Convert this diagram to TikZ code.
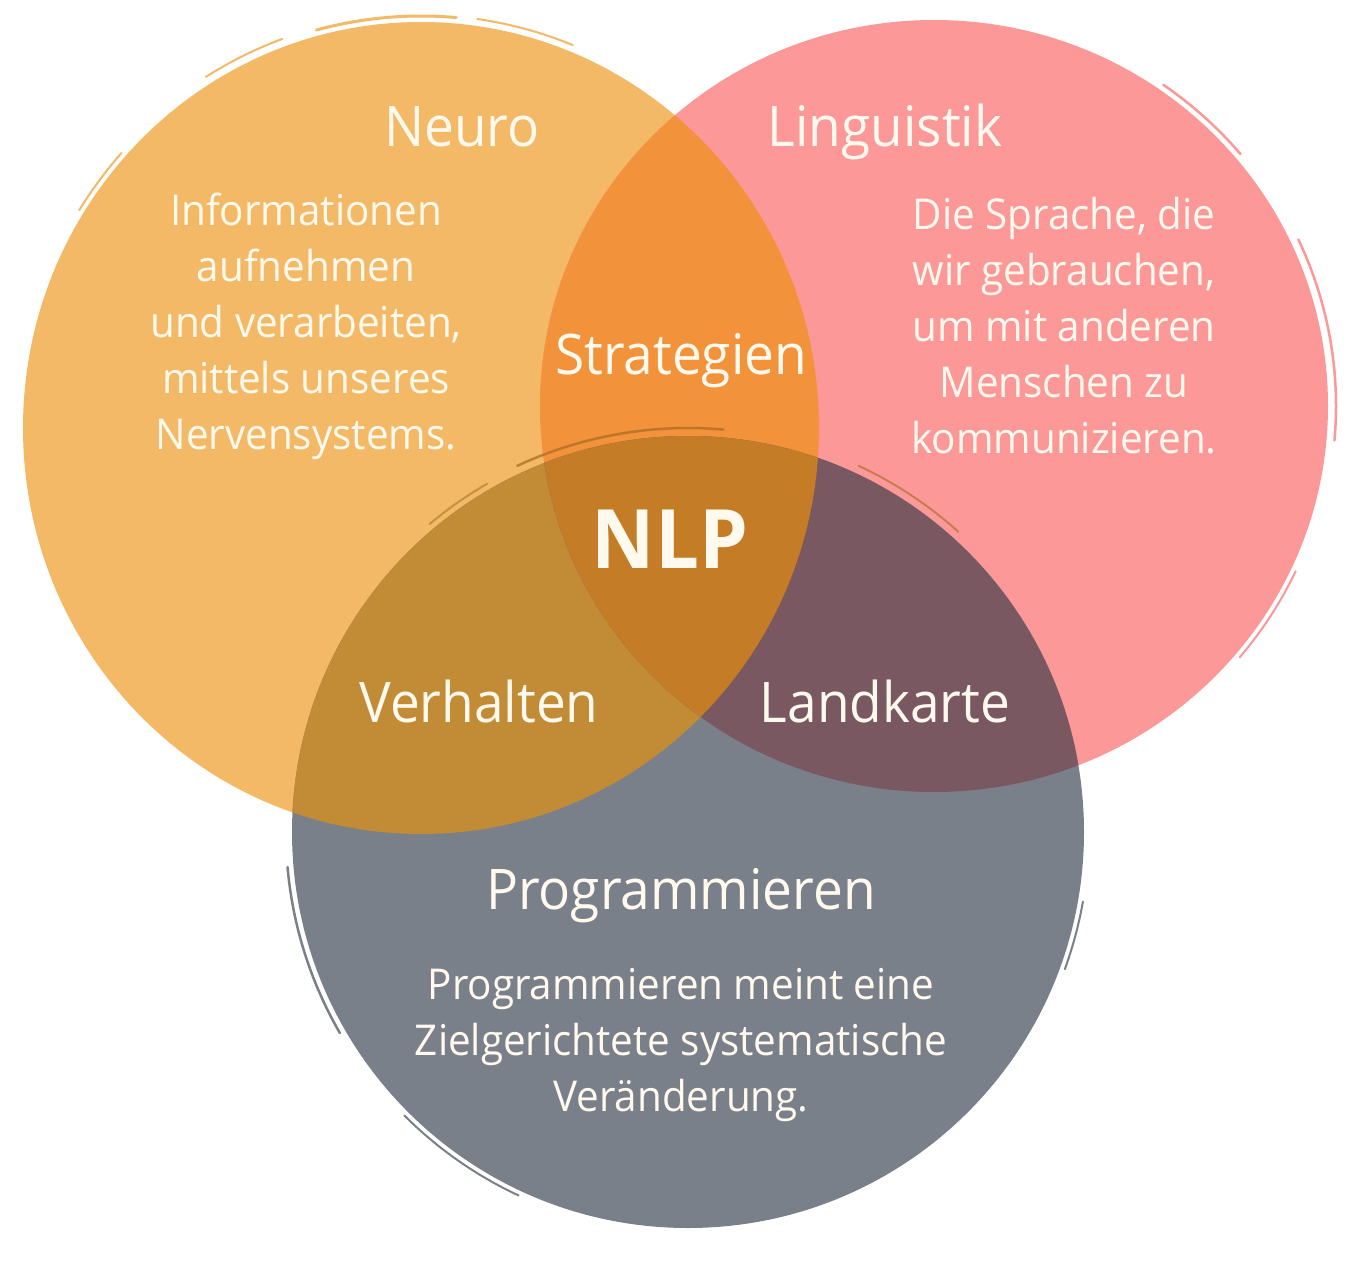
\documentclass[tikz,border=0pt]{standalone}
\usepackage{fontspec}
\setmainfont{Open Sans}[FakeStretch=0.95]
\usetikzlibrary{calc}
\definecolor{cOr}{HTML}{F4B966}
\definecolor{cPk}{HTML}{FC9898}
\definecolor{cGy}{HTML}{7A8089}
\definecolor{cOP}{HTML}{F2923A}
\definecolor{cOG}{HTML}{C28B36}
\definecolor{cPG}{HTML}{7A5861}
\definecolor{cAll}{HTML}{C47D26}
\definecolor{cTxt}{HTML}{FFF9EE}
\def\OrE{(421,428) ellipse [x radius=398, y radius=406]}
\def\PkE{(934,406) ellipse [x radius=394, y radius=386]}
\def\GyE{(688,832) ellipse [x radius=396, y radius=396]}
\tikzset{
  head/.style={text=cTxt, inner sep=0pt, anchor=base, font=\fontsize{56}{62}\selectfont},
  body/.style={text=cTxt, inner sep=0pt, align=center, font=\fontsize{42.5}{56}\selectfont},
  brush/.style={line cap=round, line width=#1},
}
\begin{document}
\begin{tikzpicture}[x=1pt,y=-1pt]
\useasboundingbox (0,0) rectangle (1369,1261);
\fill[white] (0,0) rectangle (1369,1261);
% base circles
\fill[cOr] \OrE;
\fill[cPk] \PkE;
\fill[cGy] \GyE;
% overlaps
\begin{scope}\clip \OrE; \fill[cOP] \PkE; \end{scope}
\begin{scope}\clip \OrE; \fill[cOG] \GyE; \end{scope}
\begin{scope}\clip \PkE; \fill[cPG] \GyE; \end{scope}
\begin{scope}\clip \OrE; \clip \PkE; \fill[cAll] \GyE; \end{scope}
% brush strokes (orange)
\draw[cOr, brush=3] (421,428) ++(255:404 and 412) arc[start angle=255, end angle=275, x radius=404, y radius=412];
\draw[cOr, brush=2] (421,428) ++(238:406 and 414) arc[start angle=238, end angle=250, x radius=406, y radius=414];
\draw[cOr, brush=2] (421,428) ++(212:403 and 411) arc[start angle=212, end angle=222, x radius=403, y radius=411];
\draw[cOr, brush=2] (421,428) ++(278:405 and 413) arc[start angle=278, end angle=292, x radius=405, y radius=413];
% brush strokes (pink)
\draw[cPk, brush=2.5] (934,406) ++(-55:400 and 392) arc[start angle=-55, end angle=-40, x radius=400, y radius=392];
\draw[cPk, brush=2.5] (934,406) ++(-25:402 and 394) arc[start angle=-25, end angle=5, x radius=402, y radius=394];
\draw[cPk, brush=2] (934,406) ++(25:399 and 391) arc[start angle=25, end angle=40, x radius=399, y radius=391];
% brush strokes (gray)
\draw[cGy, brush=2.5] (688,832) ++(150:402 and 402) arc[start angle=150, end angle=175, x radius=402, y radius=402];
\draw[cGy, brush=2] (688,832) ++(115:401 and 401) arc[start angle=115, end angle=135, x radius=401, y radius=401];
\draw[cGy, brush=2] (688,832) ++(10:401 and 401) arc[start angle=10, end angle=20, x radius=401, y radius=401];
% darker strokes inside overlaps
\draw[cAll!85!black, brush=2.5, opacity=.7] (688,832) ++(-115:404 and 404) arc[start angle=-115, end angle=-85, x radius=404, y radius=404];
\draw[cOG!85!black, brush=2, opacity=.6] (688,832) ++(-130:402 and 402) arc[start angle=-130, end angle=-120, x radius=402, y radius=402];
\draw[cAll!85!black, brush=2, opacity=.6] (688,832) ++(-65:404 and 404) arc[start angle=-65, end angle=-48, x radius=404, y radius=404];
% texts
\node[head] (neuro) at (462,146) {Neuro};
\node[head] (ling) at (885,146) {Linguistik};
\node[body] (ntext) at (306,326) {Informationen\\aufnehmen\\und verarbeiten,\\mittels unseres\\Nervensystems.};
\node[body] (ltext) at (1064,326) {Die Sprache, die\\wir gebrauchen,\\um mit anderen\\Menschen zu\\kommunizieren.};
\node[head] (strat) at (681,374) {Strategien};
\node[head, font=\bfseries\fontsize{82}{86}\selectfont] (nlp) at (670,568) {NLP};
\node[head] (verh) at (479,722) {Verhalten};
\node[head] (land) at (885,722) {Landkarte};
\node[head] (prog) at (681,909) {Programmieren};
\node[body] (ptext) at (681,1045) {Programmieren meint eine\\Zielgerichtete systematische\\Veränderung.};
\end{tikzpicture}
\end{document}
